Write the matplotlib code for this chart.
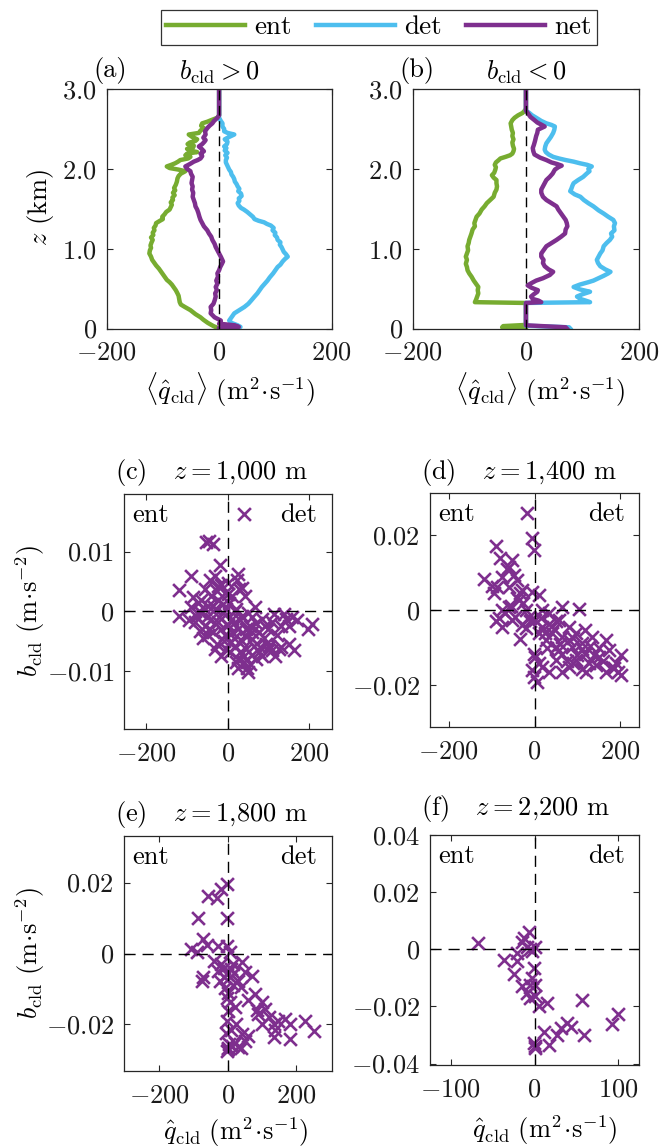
import numpy as np
import matplotlib
matplotlib.use("Agg")
import matplotlib.pyplot as plt
from matplotlib.lines import Line2D

plt.rcParams['font.family'] = ['cmr10', 'DejaVu Serif']
plt.rcParams['mathtext.fontset'] = 'cm'
plt.rcParams['axes.unicode_minus'] = False

C_ENT = '#77AC30'
C_DET = '#4DBEEE'
C_NET = '#7E2F8E'

# ---------------- data: profiles (z [km], value [m2 s-1]) ----------------
ent_a = [(0.00, 0), (0.03, -10), (0.07, -20), (0.11, -28), (0.14, -33), (0.18, -42), (0.23, -51),
         (0.27, -61), (0.30, -68), (0.33, -70), (0.37, -71), (0.41, -72), (0.44, -74), (0.48, -77),
         (0.52, -81), (0.55, -84), (0.58, -88), (0.61, -93), (0.64, -96), (0.68, -100), (0.72, -104),
         (0.75, -107), (0.79, -112), (0.83, -116), (0.86, -119), (0.90, -121), (0.94, -124),
         (0.98, -123), (1.01, -121), (1.04, -122), (1.08, -120), (1.11, -118), (1.14, -121),
         (1.17, -117), (1.20, -118), (1.23, -115), (1.26, -116), (1.29, -113), (1.32, -112),
         (1.35, -105), (1.37, -100), (1.40, -101), (1.43, -97), (1.46, -94), (1.49, -88), (1.52, -86),
         (1.55, -84), (1.58, -86), (1.61, -82), (1.64, -83), (1.67, -79), (1.70, -82), (1.73, -78),
         (1.76, -80), (1.80, -77), (1.84, -75), (1.88, -74), (1.91, -72), (1.94, -68), (1.97, -60),
         (1.99, -72), (2.01, -88), (2.03, -93), (2.05, -85), (2.07, -78), (2.09, -73), (2.11, -69),
         (2.13, -55), (2.15, -51), (2.17, -60), (2.19, -57), (2.21, -39), (2.23, -52), (2.25, -57),
         (2.27, -46), (2.29, -45), (2.31, -56), (2.33, -52), (2.35, -42), (2.37, -39), (2.40, -48),
         (2.43, -54), (2.45, -36), (2.48, -33), (2.51, -27), (2.54, -32), (2.57, -30), (2.59, -21),
         (2.61, -14), (2.64, -3), (2.67, 0), (3.00, 0)]
det_a = [(0.00, 30), (0.02, 38), (0.04, 33), (0.07, 22), (0.10, 18), (0.14, 22), (0.19, 27),
         (0.23, 36), (0.27, 45), (0.31, 52), (0.35, 57), (0.40, 63), (0.44, 68), (0.48, 72),
         (0.52, 76), (0.56, 81), (0.60, 86), (0.64, 90), (0.69, 96), (0.73, 100), (0.77, 104),
         (0.80, 109), (0.84, 113), (0.87, 117), (0.90, 122), (0.93, 119), (0.96, 115), (0.99, 113),
         (1.02, 111), (1.05, 108), (1.08, 109), (1.11, 104), (1.14, 103), (1.17, 99), (1.20, 100),
         (1.23, 95), (1.26, 97), (1.29, 92), (1.31, 85), (1.33, 80), (1.35, 70), (1.37, 63),
         (1.40, 60), (1.43, 55), (1.46, 50), (1.49, 44), (1.51, 39), (1.54, 35), (1.57, 33),
         (1.60, 36), (1.63, 35), (1.66, 40), (1.69, 39), (1.72, 34), (1.75, 36), (1.78, 33),
         (1.81, 31), (1.84, 28), (1.87, 27), (1.90, 25), (1.93, 22), (1.96, 21), (1.99, 18),
         (2.02, 16), (2.05, 14), (2.08, 12), (2.11, 12), (2.14, 14), (2.17, 11), (2.20, 15),
         (2.23, 10), (2.26, 13), (2.28, 9), (2.31, 14), (2.34, 15), (2.37, 10), (2.40, 18),
         (2.43, 27), (2.45, 15), (2.47, 9), (2.50, 9), (2.53, 6), (2.57, 6), (2.60, 3), (2.64, 0),
         (3.00, 0)]
net_a = [(0.00, 0), (0.02, 35), (0.04, 28), (0.06, 0), (0.08, 3), (0.10, 3), (0.14, -8),
         (0.19, -15), (0.23, -14), (0.27, -15), (0.31, -10), (0.35, -8), (0.40, -6), (0.44, -7),
         (0.48, -4), (0.52, -6), (0.56, -3), (0.60, -5), (0.65, -2), (0.69, -3), (0.73, 0),
         (0.77, 2), (0.81, 5), (0.84, 7), (0.87, 5), (0.90, 3), (0.94, 0), (0.98, -3), (1.02, -6),
         (1.06, -8), (1.11, -12), (1.15, -14), (1.19, -18), (1.23, -21), (1.28, -27), (1.32, -30),
         (1.36, -33), (1.40, -35), (1.45, -37), (1.49, -39), (1.53, -42), (1.57, -43), (1.61, -45),
         (1.65, -47), (1.70, -46), (1.74, -48), (1.78, -47), (1.82, -49), (1.86, -48), (1.90, -47),
         (1.94, -50), (1.97, -51), (2.00, -57), (2.03, -60), (2.06, -52), (2.09, -45), (2.11, -38),
         (2.13, -33), (2.16, -30), (2.19, -33), (2.22, -27), (2.25, -31), (2.28, -36), (2.31, -30),
         (2.34, -26), (2.36, -24), (2.39, -28), (2.43, -24), (2.47, -25), (2.51, -21), (2.54, -17),
         (2.57, -12), (2.60, -9), (2.64, -3), (2.67, 0), (3.00, 0)]

ent_b = [(0.00, 0), (0.015, -42), (0.03, -40), (0.045, 0), (0.32, 0), (0.33, -90), (0.36, -88),
         (0.40, -86), (0.44, -84), (0.48, -85), (0.52, -84), (0.56, -88), (0.60, -92), (0.65, -96),
         (0.69, -100), (0.73, -103), (0.77, -104), (0.81, -106), (0.86, -104), (0.90, -106),
         (0.94, -104), (0.98, -102), (1.03, -103), (1.07, -101), (1.11, -100), (1.15, -98),
         (1.19, -96), (1.24, -94), (1.28, -90), (1.32, -91), (1.36, -89), (1.40, -87), (1.44, -82),
         (1.49, -78), (1.53, -73), (1.57, -69), (1.61, -63), (1.65, -57), (1.70, -55), (1.74, -52),
         (1.78, -51), (1.82, -52), (1.86, -52), (1.89, -57), (1.92, -60), (1.95, -56), (1.99, -54),
         (2.02, -53), (2.05, -55), (2.08, -53), (2.11, -48), (2.13, -45), (2.15, -36), (2.17, -28),
         (2.19, -24), (2.22, -22), (2.25, -21), (2.29, -23), (2.33, -24), (2.37, -22), (2.41, -24),
         (2.45, -23), (2.49, -25), (2.53, -26), (2.57, -27), (2.61, -24), (2.64, -20), (2.67, -14),
         (2.70, -6), (2.73, -2), (2.75, 0), (3.00, 0)]
det_b = [(0.00, 78), (0.015, 76), (0.035, 0), (0.32, 0), (0.33, 113), (0.35, 105), (0.37, 96),
         (0.40, 90), (0.43, 100), (0.46, 113), (0.49, 95), (0.52, 84), (0.55, 95), (0.58, 110),
         (0.60, 119), (0.63, 128), (0.66, 137), (0.69, 145), (0.71, 149), (0.74, 140), (0.78, 131),
         (0.82, 127), (0.86, 125), (0.90, 128), (0.94, 131), (0.98, 135), (1.03, 137), (1.07, 142),
         (1.11, 148), (1.15, 152), (1.19, 150), (1.23, 156), (1.28, 155), (1.32, 157), (1.36, 154),
         (1.40, 145), (1.44, 137), (1.48, 128), (1.53, 119), (1.57, 110), (1.61, 102), (1.65, 96),
         (1.68, 86), (1.72, 78), (1.75, 80), (1.79, 82), (1.82, 84), (1.86, 92), (1.90, 101),
         (1.94, 107), (1.97, 112), (2.00, 110), (2.03, 116), (2.05, 108), (2.07, 95), (2.09, 84),
         (2.11, 70), (2.13, 58), (2.15, 48), (2.18, 40), (2.21, 35), (2.24, 33), (2.28, 34),
         (2.32, 36), (2.36, 40), (2.40, 44), (2.45, 48), (2.49, 50), (2.53, 51), (2.55, 45),
         (2.57, 36), (2.60, 27), (2.64, 18), (2.67, 11), (2.70, 6), (2.73, 0), (3.00, 0)]
net_b = [(0.00, 72), (0.015, 70), (0.04, 0), (0.32, 0), (0.33, 27), (0.35, 22), (0.37, 12),
         (0.40, 9), (0.43, 14), (0.46, 20), (0.48, 21), (0.51, 10), (0.54, 3), (0.57, 10),
         (0.60, 18), (0.63, 30), (0.67, 42), (0.71, 48), (0.74, 40), (0.78, 33), (0.82, 30),
         (0.86, 31), (0.90, 27), (0.94, 27), (0.98, 31), (1.03, 36), (1.07, 45), (1.11, 54),
         (1.15, 62), (1.19, 69), (1.24, 70), (1.28, 73), (1.32, 72), (1.36, 70), (1.40, 66),
         (1.44, 62), (1.49, 57), (1.53, 54), (1.57, 45), (1.61, 36), (1.65, 30), (1.70, 27),
         (1.74, 27), (1.78, 30), (1.82, 33), (1.86, 36), (1.90, 42), (1.94, 47), (1.99, 51),
         (2.02, 57), (2.04, 63), (2.06, 55), (2.08, 45), (2.11, 36), (2.14, 25), (2.18, 15),
         (2.22, 13), (2.26, 12), (2.30, 14), (2.35, 16), (2.41, 18), (2.45, 20), (2.49, 21),
         (2.53, 33), (2.55, 28), (2.58, 20), (2.61, 15), (2.65, 8), (2.70, 3), (2.73, 0), (3.00, 0)]

# ---------------- data: scatter (q_cld [m2 s-1], b_cld [m s-2]) ----------------
pts_c = [(39, 0.0162), (-52, 0.0116), (-45, 0.0118), (-35, 0.0113), (-19, 0.0078),
         (-89, 0.0059), (-120, 0.0036), (-120, -0.0007), (-44, 0.0053), (-31, 0.0059),
         (26, 0.0062), (22, 0.0053), (2, 0.0048), (-23, 0.0042), (-56, 0.0037), (43, 0.0026),
         (-73, 0.0015), (-89, 0.0007), (-64, -0.0002), (-48, 0.0009), (68, 0.0007),
         (113, -0.0004), (138, -0.0004), (159, -0.001), (208, -0.0021), (196, -0.0029),
         (163, -0.0065), (125, -0.0062), (101, -0.0057), (109, -0.0065), (47, -0.0095),
         (51, -0.0101), (39, -0.0084), (26, -0.0079), (6, -0.0068), (-27, -0.0054),
         (-48, -0.004), (-68, -0.0032), (-81, -0.0018), (-56, -0.0024), (-23, -0.0018),
         (10, -0.0013), (26, -0.0029), (43, -0.004), (59, -0.0046), (76, -0.0035),
         (92, -0.0024), (84, -0.0013), (109, -0.0018), (130, -0.0024), (142, -0.0013),
         (76, -0.0068), (59, -0.0073), (18, -0.0057), (31, -0.0068), (-7, -0.004),
         (10, -0.0035), (-15, -0.0029), (-40, -0.0013), (-11, -0.0002), (18, 0.0001),
         (35, -0.0007), (51, -0.0002), (-23, 0.002), (-7, 0.0031), (10, 0.0026),
         (-40, 0.0026), (-11, 0.0012), (-56, 0.0004), (-78, -0.0008), (-60, -0.0045),
         (-35, -0.0035), (0, -0.0022), (35, -0.005), (65, -0.0058), (90, -0.0045),
         (120, -0.004), (150, -0.0025), (5, -0.0052), (-5, -0.0062), (20, -0.0085),
         (55, -0.0088), (85, -0.0075), (3, 0.0015), (-30, 0.0005), (28, 0.0038),
         (-15, 0.0045), (60, -0.001), (-95, -0.0015), (-30, -0.0062), (15, -0.0045),
         (45, -0.0062), (100, -0.003),
         (-70, 0.0), (-50, -0.001), (-35, 0.001), (-20, -0.001), (-5, 0.0005), (15, -0.002),
         (30, -0.0015), (45, -0.003), (60, -0.0035), (70, -0.002), (95, -0.0055), (115, -0.0075),
         (130, -0.006), (80, -0.006), (40, -0.0075), (25, -0.0095), (-10, -0.005), (-45, -0.003),
         (0, 0.003), (-25, 0.0035), (35, 0.004), (-65, 0.002), (70, -0.008), (100, -0.0065),
         (150, -0.0055), (170, -0.0015), (-85, 0.0025), (-15, -0.0075), (55, -0.0025), (20, 0.0005)]
pts_d = [(-17, 0.026), (-5, 0.0191), (-2, 0.016), (-89, 0.0172), (-80, 0.0138), (-52, 0.0133),
         (-60, 0.0116), (-119, 0.0083), (-87, 0.0062), (-76, 0.0089), (-48, 0.0093), (-41, 0.008),
         (-29, 0.0053), (-5, 0.0049), (10, 0.004), (-41, 0.0031), (-37, 0.0027), (-76, 0.0),
         (-60, 0.0009), (-84, -0.0022), (-76, -0.0044), (-52, -0.0027), (-33, -0.0076),
         (-21, -0.0049), (-13, -0.0018), (18, 0.0), (34, -0.0009), (65, 0.0009), (104, 0.0004),
         (57, -0.0027), (80, -0.0044), (96, -0.0062), (119, -0.0053), (135, -0.0071),
         (112, -0.0089), (88, -0.0098), (65, -0.0071), (41, -0.0062), (26, -0.008), (10, -0.0062),
         (-2, -0.0116), (2, -0.0124), (-5, -0.016), (-2, -0.0178), (6, -0.0191), (18, -0.0151),
         (34, -0.0164), (49, -0.0133), (65, -0.0164), (80, -0.0151), (96, -0.0133),
         (119, -0.0116), (127, -0.0142), (151, -0.0124), (166, -0.008), (174, -0.0107),
         (190, -0.0142), (202, -0.012), (166, -0.0164), (182, -0.0151), (202, -0.0173),
         (143, -0.0147), (112, -0.0156), (65, -0.0116), (49, -0.0098), (80, -0.008),
         (34, -0.0036), (18, -0.0044), (2, -0.0027), (-45, -0.0018), (-68, -0.0009),
         (-28, 0.002), (-60, 0.0062), (-100, 0.0065), (-30, -0.004), (45, -0.005), (150, -0.01),
         (185, -0.0155), (100, -0.012), (130, -0.0095), (75, -0.0135), (55, -0.011),
         (-10, -0.003), (25, -0.006),
         (-90, -0.003), (-55, 0.001), (-20, 0.0), (15, -0.002), (50, -0.003), (90, -0.0075),
         (110, -0.0105), (140, -0.012), (160, -0.0135), (60, -0.009), (30, -0.01), (10, -0.014),
         (90, -0.014), (120, -0.0165), (195, -0.0165), (-65, 0.011), (-35, 0.0045), (-95, 0.0045)]
pts_e = [(-3, 0.0195), (-18, 0.0181), (-57, 0.0162), (-32, 0.0157), (-86, 0.0101), (-3, 0.0101),
         (-71, 0.004), (-106, 0.0012), (-91, 0.0003), (-27, 0.0022), (-3, 0.0022), (7, 0.0003),
         (41, -0.0025), (71, -0.0063), (51, -0.0053), (17, -0.003), (-18, -0.003),
         (-27, -0.0049), (-71, -0.0067), (-76, -0.0077), (-22, -0.0077), (-3, -0.0058),
         (7, -0.0067), (31, -0.0077), (-8, -0.0096), (-3, -0.0124), (7, -0.0138), (22, -0.0152),
         (2, -0.0161), (-3, -0.0189), (80, -0.0114), (100, -0.0138), (110, -0.0157),
         (90, -0.0171), (120, -0.018), (135, -0.0199), (149, -0.019), (169, -0.0185),
         (184, -0.0199), (227, -0.019), (252, -0.0218), (135, -0.0236), (184, -0.0241),
         (41, -0.0227), (51, -0.0246), (22, -0.0251), (2, -0.0265), (-3, -0.0274), (12, -0.026),
         (5, -0.0255), (30, -0.0262), (60, -0.0232), (-10, -0.004), (10, -0.0045), (0, -0.011),
         (15, -0.009), (-12, -0.0065), (0, -0.0268),
         (-60, 0.0025), (-40, -0.002), (20, -0.0055), (40, -0.0095), (60, -0.013), (85, -0.016),
         (140, -0.0215), (100, -0.02), (25, -0.02), (10, -0.0215), (40, -0.0265), (-5, -0.0225)]
pts_f = [(-68, 0.0021), (-7, 0.0059), (-13, 0.0041), (-15, 0.0024), (-9, 0.0008), (-5, 0.0),
         (1, 0.0008), (-3, -0.0006), (-21, -0.0012), (-21, -0.0041), (-37, -0.0039),
         (-25, -0.0088), (-1, -0.0065), (-3, -0.01), (-5, -0.0124), (1, -0.0124), (-15, -0.0129),
         (-9, -0.0153), (-5, -0.0171), (1, -0.0165), (5, -0.02), (15, -0.0188), (57, -0.0176),
         (100, -0.0227), (92, -0.0262), (39, -0.0259), (31, -0.0276), (43, -0.0271), (27, -0.03),
         (59, -0.03), (11, -0.0288), (17, -0.0335), (-1, -0.0329), (1, -0.0347), (0, -0.034)]

series_labels = ['ent', 'det', 'net']
prof_titles = [r'$b_{\rm cld} > 0$', r'$b_{\rm cld} < 0$']
scat_heights = ['1{,}000', '1{,}400', '1{,}800', '2{,}200']

# ---------------- figure ----------------
W, H = 665, 1147
fig = plt.figure(figsize=(W / 100, H / 100), dpi=100)


def px_axes(x0, x1, y0, y1):
    return fig.add_axes([x0 / W, 1 - y1 / H, (x1 - x0) / W, (y1 - y0) / H])


FS = 19
SPC = '#262626'


def style(ax):
    for s in ax.spines.values():
        s.set_linewidth(0.9)
        s.set_color(SPC)
    ax.tick_params(direction='in', top=True, right=True, length=4.5, width=0.8,
                   color=SPC, labelsize=FS, labelcolor='#1a1a1a')
    ax.tick_params(axis='x', pad=9)
    ax.tick_params(axis='y', pad=7)


def mlab(v, fmt):
    s = fmt.format(abs(v))
    return ('$-' + s + '$') if v < 0 else ('$' + s + '$')


axa = px_axes(106.6, 331.6, 89, 328.5)
axb = px_axes(412.5, 639.4, 89, 328.5)

for ax, profs, ttl, lab, lx in [(axa, (ent_a, det_a, net_a), prof_titles[0], '(a)', 110),
                                (axb, (ent_b, det_b, net_b), prof_titles[1], '(b)', 417)]:
    for p, c, name in zip(profs, (C_ENT, C_DET, C_NET), series_labels):
        arr = np.array(p, dtype=float)
        ax.plot(arr[:, 1], arr[:, 0], color=c, lw=3.2, label=name, solid_joinstyle='round')
    ax.axvline(0, color='k', lw=1.0, dashes=(7, 4), zorder=5)
    ax.set_xlim(-200, 200)
    ax.set_ylim(0, 3)
    ax.set_xticks([-200, 0, 200])
    ax.set_xticklabels([mlab(v, '{:d}') for v in [-200, 0, 200]])
    ax.set_yticks([0, 1, 2, 3])
    ax.set_yticklabels(['$0$', '$1.0$', '$2.0$', '$3.0$'])
    style(ax)
    ax.set_title(ttl, fontsize=FS, pad=7)
    fig.text(lx / W, 1 - 70 / H, lab, fontsize=FS, ha='center', va='center')

fig.text(40 / W, 1 - 208 / H, r'$z$ (km)', rotation=90, fontsize=FS, ha='center', va='center')
fig.text(230 / W, 1 - 390 / H, r'$\langle\hat{q}_{\rm cld}\rangle\ (\mathrm{m}^2\!\cdot\!\mathrm{s}^{-1})$',
         fontsize=FS, ha='center', va='center')
fig.text(540 / W, 1 - 390 / H, r'$\langle\hat{q}_{\rm cld}\rangle\ (\mathrm{m}^2\!\cdot\!\mathrm{s}^{-1})$',
         fontsize=FS, ha='center', va='center')

handles = [Line2D([], [], color=c, lw=3.2) for c in (C_ENT, C_DET, C_NET)]
leg = fig.legend(handles, series_labels, loc='center', bbox_to_anchor=(379 / W, 1 - 27.5 / H),
                 ncol=3, fontsize=FS + 0.5, frameon=True, fancybox=False, edgecolor='k',
                 handlelength=2.9, handletextpad=0.35, columnspacing=0.9, borderpad=0.2,
                 borderaxespad=0)
leg.get_frame().set_linewidth(0.9)

scat_specs = [
    (pts_c, (123.6, 331.6, 494, 729), 255, 0.0196, [-200, 0, 200], [-0.01, 0, 0.01], '(c)', 115, 473),
    (pts_d, (429.7, 639.4, 493, 727), 245, 0.0312, [-200, 0, 200], [-0.02, 0, 0.02], '(d)', 421, 473),
    (pts_e, (123.6, 331.6, 836, 1071), 305, 0.0331, [-200, 0, 200], [-0.02, 0, 0.02], '(e)', 115, 815),
    (pts_f, (429.7, 639.4, 835, 1065), 125, 0.0405, [-100, 0, 100], [-0.04, -0.02, 0, 0.02, 0.04], '(f)', 421, 808),
]

for (pts, box, xl, yl, xt, yt, lab, tx, ty), hgt in zip(scat_specs, scat_heights):
    ax = px_axes(*box)
    arr = np.array(pts, dtype=float)
    ax.scatter(arr[:, 0], arr[:, 1], marker='x', s=85, color=C_NET, linewidths=1.9, zorder=3)
    ax.axvline(0, color='k', lw=1.0, dashes=(8, 5), zorder=5)
    ax.axhline(0, color='k', lw=1.0, dashes=(8, 5), zorder=5)
    ax.set_xlim(-xl, xl)
    ax.set_ylim(-yl, yl if lab != '(f)' else 0.04)
    ax.set_xticks(xt)
    ax.set_xticklabels([mlab(v, '{:d}') for v in xt])
    ax.set_yticks(yt)
    ax.set_yticklabels([('$0$' if v == 0 else mlab(v, '{:.2f}')) for v in yt])
    style(ax)
    ax.text(0.04, 0.91, 'ent', transform=ax.transAxes, fontsize=FS, ha='left', va='center')
    ax.text(0.93, 0.91, 'det', transform=ax.transAxes, fontsize=FS, ha='right', va='center')
    fig.text(tx / W, 1 - ty / H, lab + r'   $z = ' + hgt + r'$ m', fontsize=FS, ha='left', va='center')

for yc in (611, 953):
    fig.text(30 / W, 1 - yc / H, r'$b_{\rm cld}\ (\mathrm{m}\!\cdot\!\mathrm{s}^{-2})$', rotation=90,
             fontsize=FS, ha='center', va='center')
fig.text(236 / W, 1 - 1132 / H, r'$\hat{q}_{\rm cld}\ (\mathrm{m}^2\!\cdot\!\mathrm{s}^{-1})$',
         fontsize=FS, ha='center', va='center')
fig.text(545 / W, 1 - 1130 / H, r'$\hat{q}_{\rm cld}\ (\mathrm{m}^2\!\cdot\!\mathrm{s}^{-1})$',
         fontsize=FS, ha='center', va='center')

fig.savefig('out.png', dpi=100)
